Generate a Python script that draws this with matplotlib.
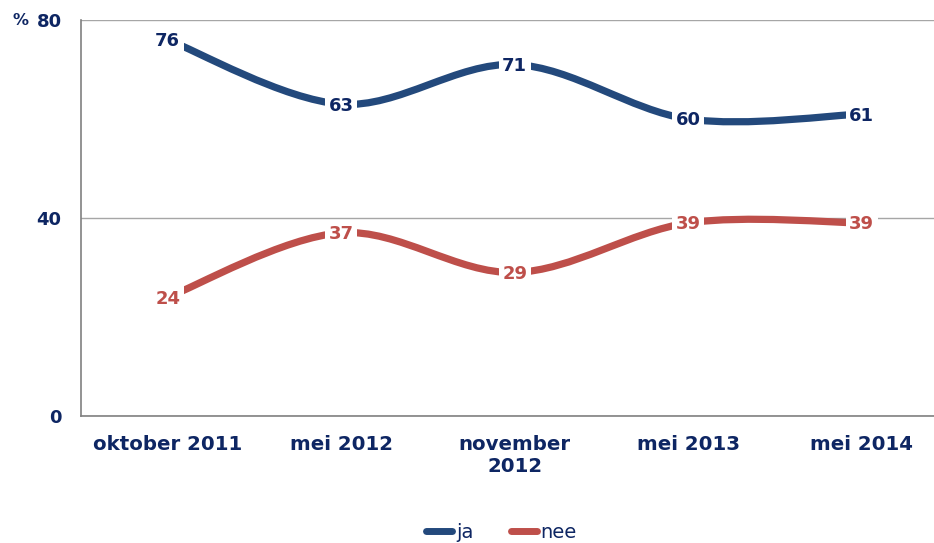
import matplotlib
matplotlib.use("Agg")
import matplotlib.pyplot as plt
from matplotlib.path import Path
from matplotlib.patches import PathPatch
from matplotlib.lines import Line2D

periods = ["oktober 2011", "mei 2012", "november\n2012", "mei 2013", "mei 2014"]
ja = [76, 63, 71, 60, 61]
nee = [24, 37, 29, 39, 39]

BLUE = "#23497C"
RED = "#BE4F4A"
NAVY = "#0E2663"
GRID = "#A6A6A6"


def smooth_path(xs, ys):
    # catmull-rom style bezier, like the "smoothed line" of a spreadsheet chart
    pts = list(zip(xs, ys))
    verts = [pts[0]]
    codes = [Path.MOVETO]
    n = len(pts)
    for i in range(n - 1):
        p0 = pts[i - 1] if i > 0 else pts[i]
        p1 = pts[i]
        p2 = pts[i + 1]
        p3 = pts[i + 2] if i + 2 < n else pts[i + 1]
        c1 = (p1[0] + (p2[0] - p0[0]) / 6, p1[1] + (p2[1] - p0[1]) / 6)
        c2 = (p2[0] - (p3[0] - p1[0]) / 6, p2[1] - (p3[1] - p1[1]) / 6)
        verts += [c1, c2, p2]
        codes += [Path.CURVE4] * 3
    return Path(verts, codes)


fig = plt.figure(figsize=(9.34, 5.43), dpi=100)
ax = fig.add_axes([0.0867, 0.2339, 0.9288, 0.7293])

x = list(range(len(periods)))
for vals, col, lcol in [(ja, BLUE, NAVY), (nee, RED, RED)]:
    ax.add_patch(PathPatch(smooth_path(x, vals), facecolor="none", edgecolor=col,
                           linewidth=5.2, capstyle="butt", zorder=3))
    for xi, v in zip(x, vals):
        ax.text(xi, v - 0.3, str(v), ha="center", va="center", color=lcol,
                fontsize=13, fontweight="bold", zorder=5,
                bbox=dict(boxstyle="square,pad=0.2", facecolor="white", edgecolor="none"))

ax.set_xlim(-0.5, len(periods) - 0.5)
ax.set_ylim(0, 80)
ax.set_yticks([0, 40, 80])
ax.set_yticklabels(["0", "40", "80"])
ax.set_xticks(x)
ax.set_xticklabels(periods)
ax.tick_params(length=0, labelsize=13, labelcolor=NAVY, pad=14)
ax.tick_params(axis="x", labelsize=14.2, pad=14)
for lab in ax.get_xticklabels() + ax.get_yticklabels():
    lab.set_fontweight("bold")
ax.set_axisbelow(True)
ax.yaxis.grid(True, color=GRID, linewidth=1)
for s in ["top", "right"]:
    ax.spines[s].set_visible(False)
for s in ["left", "bottom"]:
    ax.spines[s].set_color("#808080")
    ax.spines[s].set_linewidth(1.2)

fig.text(0.013, 0.962, "%", color=NAVY, fontsize=11.5, fontweight="bold", va="center")

handles = [Line2D([], [], color=BLUE, linewidth=5, solid_capstyle="round"),
           Line2D([], [], color=RED, linewidth=5, solid_capstyle="round")]
fig.legend(handles, ["ja", "nee"], loc="lower center", bbox_to_anchor=(0.537, -0.03),
           ncol=2, frameon=False, fontsize=14, labelcolor=NAVY,
           handlelength=1.35, handletextpad=0.2, columnspacing=1.9)

fig.savefig("out.png", dpi=100)
